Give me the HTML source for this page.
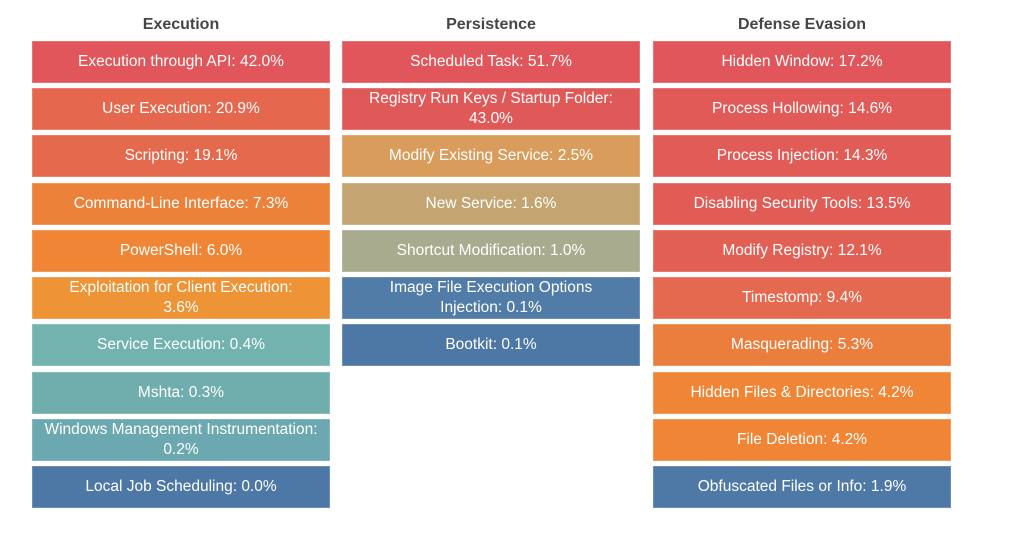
<!DOCTYPE html>
<html>
<head>
<meta charset="utf-8">
<style>
  html, body { margin:0; padding:0; background:#ffffff; }
  body { width:1024px; height:533px; position:relative; overflow:hidden; font-family:"Liberation Sans", Arial, sans-serif; }
  .h { position:absolute; top:17px; width:298px; text-align:center; font-weight:bold; font-size:16px; line-height:16px; color:#464646; }
  .b { position:absolute; width:298px; height:42px; display:flex; align-items:center; justify-content:center; text-align:center;
       color:#ffffff; font-size:15.5px; line-height:20px; white-space:nowrap; box-shadow: inset 0 0 0 1px rgba(255,255,255,0.18); }
  .c1 { left:32px; } .c2 { left:342px; } .c3 { left:653px; }
</style>
</head>
<body>
  <div class="h c1">Execution</div>
  <div class="h c2">Persistence</div>
  <div class="h c3">Defense Evasion</div>

  <!-- Execution -->
  <div class="b c1" style="top:41px;background:#e0565b;">Execution through API: 42.0%</div>
  <div class="b c1" style="top:88px;background:#e5684e;">User Execution: 20.9%</div>
  <div class="b c1" style="top:135px;background:#e56a4d;">Scripting: 19.1%</div>
  <div class="b c1" style="top:183px;background:#ec813a;">Command-Line Interface: 7.3%</div>
  <div class="b c1" style="top:230px;background:#ef8535;">PowerShell: 6.0%</div>
  <div class="b c1" style="top:277px;background:#ee9336;">Exploitation for Client Execution:<br>3.6%</div>
  <div class="b c1" style="top:324px;background:#72b2af;">Service Execution: 0.4%</div>
  <div class="b c1" style="top:372px;background:#70adad;">Mshta: 0.3%</div>
  <div class="b c1" style="top:419px;background:#6ba8b0;">Windows Management Instrumentation:<br>0.2%</div>
  <div class="b c1" style="top:466px;background:#4d78a5;">Local Job Scheduling: 0.0%</div>

  <!-- Persistence -->
  <div class="b c2" style="top:41px;background:#e0565b;">Scheduled Task: 51.7%</div>
  <div class="b c2" style="top:88px;background:#e05959;">Registry Run Keys / Startup Folder:<br>43.0%</div>
  <div class="b c2" style="top:135px;background:#d99c5a;">Modify Existing Service: 2.5%</div>
  <div class="b c2" style="top:183px;background:#c4a572;">New Service: 1.6%</div>
  <div class="b c2" style="top:230px;background:#a8ab8e;">Shortcut Modification: 1.0%</div>
  <div class="b c2" style="top:277px;background:#507ca7;">Image File Execution Options<br>Injection: 0.1%</div>
  <div class="b c2" style="top:324px;background:#4d78a5;">Bootkit: 0.1%</div>

  <!-- Defense Evasion -->
  <div class="b c3" style="top:41px;background:#e0565b;">Hidden Window: 17.2%</div>
  <div class="b c3" style="top:88px;background:#e15a58;">Process Hollowing: 14.6%</div>
  <div class="b c3" style="top:135px;background:#e15b57;">Process Injection: 14.3%</div>
  <div class="b c3" style="top:183px;background:#e25c56;">Disabling Security Tools: 13.5%</div>
  <div class="b c3" style="top:230px;background:#e25f54;">Modify Registry: 12.1%</div>
  <div class="b c3" style="top:277px;background:#e5694e;">Timestomp: 9.4%</div>
  <div class="b c3" style="top:324px;background:#ec7e3d;">Masquerading: 5.3%</div>
  <div class="b c3" style="top:372px;background:#ef8535;">Hidden Files &amp; Directories: 4.2%</div>
  <div class="b c3" style="top:419px;background:#ef8535;">File Deletion: 4.2%</div>
  <div class="b c3" style="top:466px;background:#4e79a7;">Obfuscated Files or Info: 1.9%</div>
</body>
</html>
